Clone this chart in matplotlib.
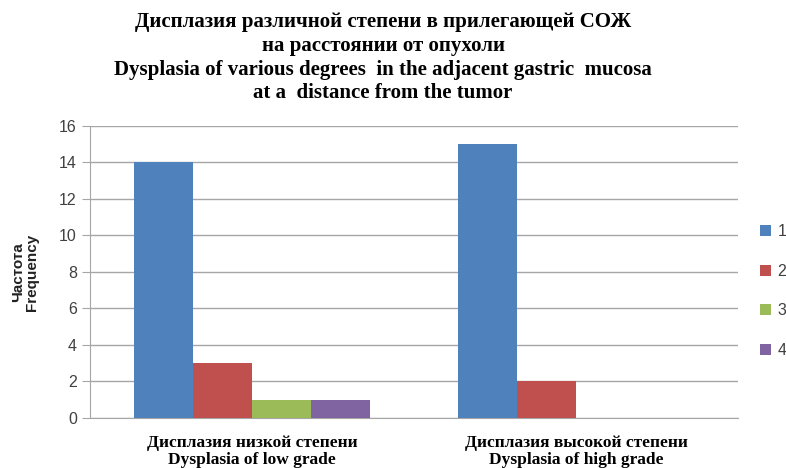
import numpy as np
import matplotlib.pyplot as plt

categories = ["Дисплазия низкой степени\nDysplasia of low grade",
              "Дисплазия высокой степени\nDysplasia of high grade"]
series_names = ["1", "2", "3", "4"]
values = {
    "1": [14, 15],
    "2": [3, 2],
    "3": [1, 0],
    "4": [1, 0],
}
colors = ["#4F81BD", "#C0504D", "#9BBB59", "#8064A2"]

title = ("Дисплазия различной степени в прилегающей СОЖ\n"
         "на расстоянии от опухоли\n"
         "Dysplasia of various degrees  in the adjacent gastric  mucosa\n"
         "at a  distance from the tumor")

fig = plt.figure(figsize=(7.86, 4.68), dpi=100)
ax = fig.add_axes([0.1145, 0.107, 0.8245, 0.624])

x = np.arange(len(categories))
w = 0.182
for i, name in enumerate(series_names):
    ax.bar(x + (i - 1.5) * w, values[name], w, color=colors[i], label=name, zorder=3)

ax.set_xlim(-0.5, 1.5)
ax.set_ylim(0, 16)
ax.set_yticks(range(0, 17, 2))
ax.yaxis.grid(True, color="#a6a6a6", linewidth=1, zorder=0)
ax.set_xticks(x)
ax.set_xticklabels(categories, family="Liberation Serif", fontweight="bold", fontsize=12.5,
                   linespacing=1.15)
ax.tick_params(axis="x", length=0, pad=12)
ax.tick_params(axis="y", length=6, color="#a6a6a6", labelsize=11.5, labelcolor="#404040")
for t in ax.get_yticklabels():
    t.set_family("Liberation Sans")
for s in ["top", "right"]:
    ax.spines[s].set_visible(False)
for s in ["left", "bottom"]:
    ax.spines[s].set_color("#a6a6a6")

ax.set_ylabel("Частота\nFrequency", family="Liberation Sans", fontweight="bold",
              fontsize=11, linespacing=1.05, labelpad=14, color="#222222")

fig.text(383 / 786, 1 - 12 / 468, title, ha="center", va="top", family="Liberation Serif",
         fontweight="bold", fontsize=15, linespacing=1.25)

leg = fig.legend(loc="center left", bbox_to_anchor=(0.967, 0.378), frameon=False,
                 handlelength=0.7, handleheight=0.7, handletextpad=0.4, borderpad=0,
                 borderaxespad=0, labelspacing=1.55, fontsize=11.5)
for t in leg.get_texts():
    t.set_family("Liberation Sans")
    t.set_color("#404040")

fig.savefig("out.png", dpi=100)
